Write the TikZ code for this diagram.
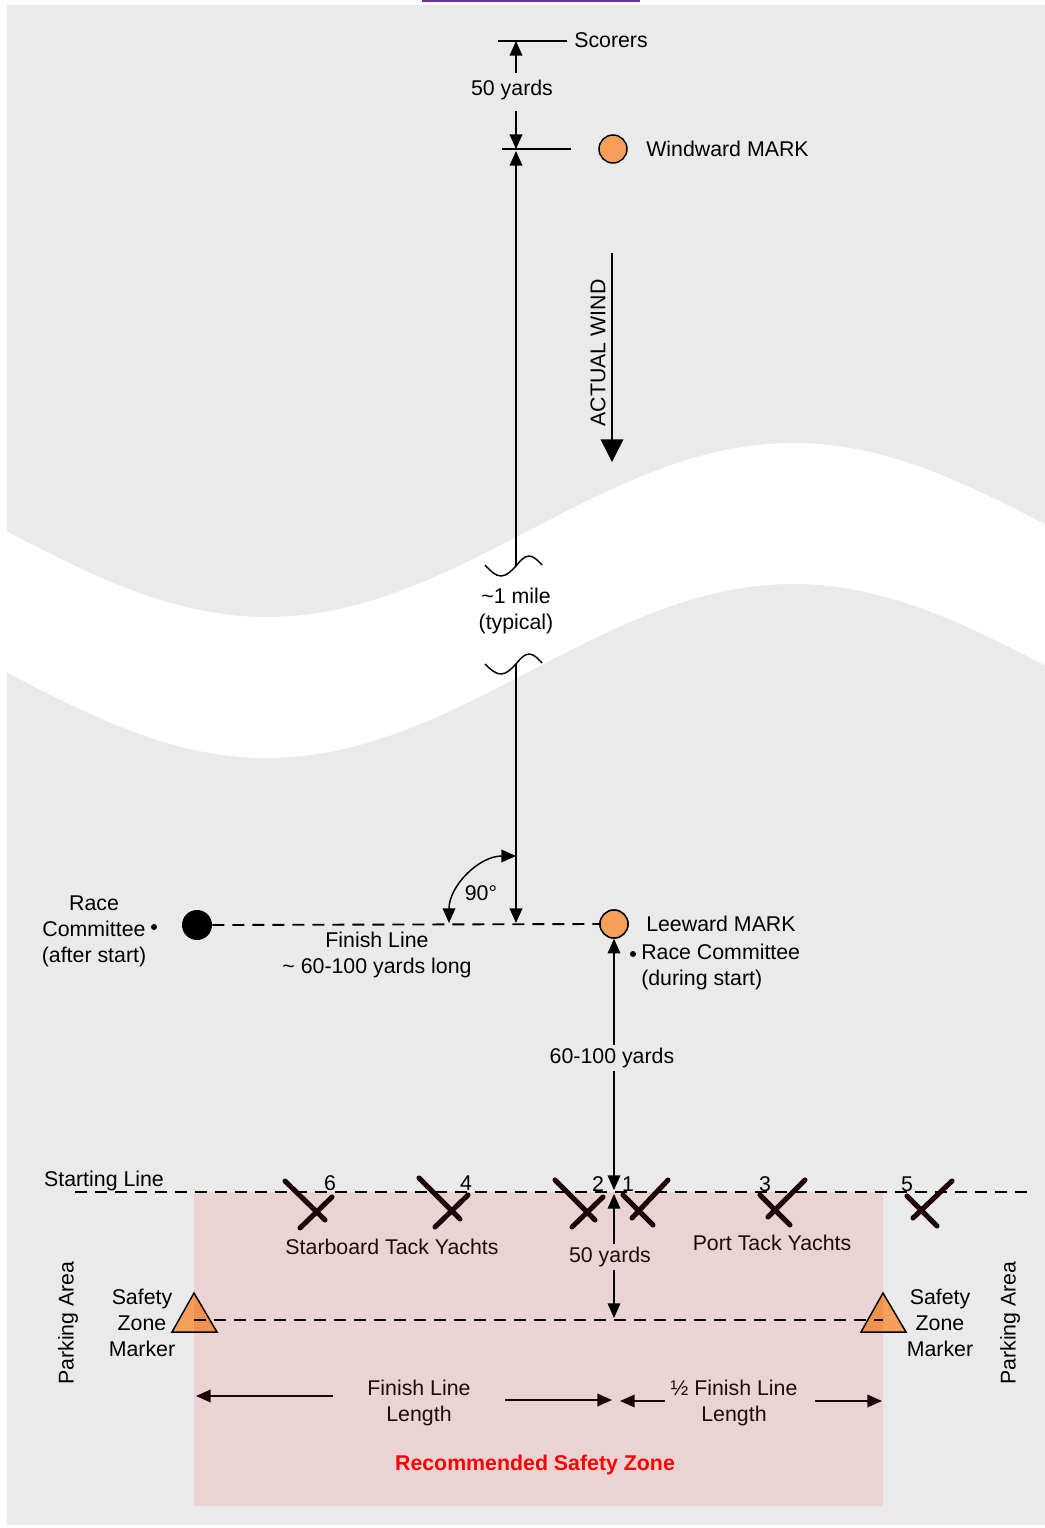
\documentclass[tikz,border=0pt]{standalone}
\usepackage{fontspec}
\setmainfont{Liberation Sans}
\usetikzlibrary{arrows.meta}
\definecolor{bggrey}{HTML}{EAEAEA}
\definecolor{zonepink}{HTML}{EBD3D3}
\definecolor{markorange}{HTML}{F5A05A}
\definecolor{markorangedark}{HTML}{F0914E}
\definecolor{boatcol}{HTML}{1E0505}
\definecolor{zonetext}{HTML}{1E0A0A}
\definecolor{linkpurple}{HTML}{7030A0}
\definecolor{zonered}{HTML}{FF0000}
\tikzset{
 lbl/.style={inner sep=0pt, font=\fontsize{16}{19.5}\selectfont},
 thinline/.style={line width=1.1pt},
 arr/.style={thinline, -{Triangle[length=11pt,width=9.5pt]}},
 dblarr/.style={thinline, {Triangle[length=11pt,width=9.5pt]}-{Triangle[length=11pt,width=9.5pt]}},
 dashline/.style={line width=1.4pt, dash pattern=on 9pt off 6pt},
 markcirc/.style={circle, draw, line width=1.1pt, fill=markorange, minimum size=21pt, inner sep=0pt},
 rccirc/.style={circle, fill=black, minimum size=22.5pt, inner sep=0pt},
 boatline/.style={line width=3.8pt, line cap=round, draw=boatcol},
 dotmark/.style={circle, fill=black, minimum size=4.5pt, inner sep=0pt},
 breakline/.style={line width=1.1pt},
}
\begin{document}
\begin{tikzpicture}[x=0.75pt,y=-0.75pt]
\useasboundingbox (0,0) rectangle (1045,1528);
% background
\fill[bggrey] (7,5) rectangle (1045,1525);
\draw[linkpurple, line width=1.5pt] (422,1) -- (640,1);
% white wave band
\begin{scope}
\clip (7,5) rectangle (1045,1525);
\fill[white] (4,530) sin (267,617) cos (530,530) sin (793,443) cos (1056,530)
  -- (1056,671) sin (793,584) cos (530,671) sin (267,758) cos (4,671) -- cycle;
\end{scope}
% safety zone
\fill[zonepink] (194,1192) rectangle (883,1506);

% ---- top: scorers and windward mark
\coordinate (scL) at (498,41); \coordinate (scR) at (567,41);
\draw[thinline] (scL) -- (scR);
\node[lbl, anchor=west] (scorers) at (574,40) {Scorers};
\coordinate (scTop) at (516,41); \coordinate (scA) at (516,73);
\draw[arr] (scA) -- (scTop);
\node[lbl] (fiftyTop) at (512,90) {50 yards};
\coordinate (wwB) at (516,111); \coordinate (wwC) at (516,149);
\draw[arr] (wwB) -- (wwC);
\coordinate (wwL) at (502,149); \coordinate (wwR) at (571,149);
\draw[thinline] (wwL) -- (wwR);
\node[markcirc] (ww) at (613,149) {};
\node[lbl, anchor=west] (wwtext) at (646,149) {Windward MARK};

% long course line (upper part)
\coordinate (brk1) at (516,566); \coordinate (wwU) at (516,151);
\draw[arr] (brk1) -- (wwU);
\draw[breakline] (485,565) sin (501,576) cos (516,566) sin (529,556) cos (542,565);

% wind arrow
\coordinate (windA) at (612,253); \coordinate (windB) at (612,462);
\draw[line width=1.1pt, -{Triangle[length=17pt,width=17pt]}] (windA) -- (windB);
\node[lbl, rotate=90] (windtext) at (598,353) {ACTUAL WIND};

% mile label
\node[lbl, align=center] (mile) at (516,611) {\textasciitilde1 mile\\(typical)};

% long course line (lower part)
\draw[breakline] (485,664) sin (501,674) cos (516,664) sin (529,654) cos (542,663);
\coordinate (brk2) at (516,664); \coordinate (finC) at (516,923);
\draw[arr] (brk2) -- (finC);

% finish line
\node[rccirc] (rc) at (197,925) {};
\node[markcirc] (lm) at (614,924) {};
\draw[dashline] (rc.east) -- (lm.west);
\node[markcirc] at (lm) {};
\draw[dblarr] (449,923) arc[start angle=180, end angle=270, radius=67];
\node[lbl] (ninety) at (481,893) {90°};

\node[lbl, align=center] (rctext) at (94,931) {Race\\Committee\\(after start)};
\node[dotmark] (rcdot) at (154,927) {};
\node[lbl, align=center] (fintext) at (377,955) {Finish Line\\\textasciitilde{} 60-100 yards long};

\node[lbl, anchor=west] (lmtext) at (646,924) {Leeward MARK};
\node[dotmark] (lmdot) at (633,954) {};
\node[lbl, anchor=north west, align=left] (rcdur) at (641,944) {Race Committee\\(during start)};

% leeward to starting line
\coordinate (slC) at (614,1190);
\draw[dblarr] (lm.south) -- (slC);
\node[lbl, fill=bggrey, inner sep=2pt] (sixty) at (612,1058) {60-100 yards};

% starting line
\coordinate (slL) at (75,1192); \coordinate (slR) at (1032,1192);
\draw[dashline] (slL) -- (slR);
\node[lbl] (sltext) at (104,1181) {Starting Line};

% 50 yards to safety line
\coordinate (slC2) at (614,1194); \coordinate (szC) at (614,1318);
\draw[dblarr] (slC2) -- (szC);
\node[lbl, fill=zonepink, inner sep=2pt, text=zonetext] (fiftyLow) at (610,1257) {50 yards};

% boats
\draw[boatline] (285,1181) -- (325,1220); \draw[boatline] (300,1228) -- (332,1197);
\draw[boatline] (419,1178) -- (460,1219); \draw[boatline] (435,1227) -- (468,1195);
\draw[boatline] (555,1180) -- (595,1220); \draw[boatline] (572,1227) -- (603,1197);
\draw[boatline] (668,1180) -- (632,1218); \draw[boatline] (623,1195) -- (653,1225);
\draw[boatline] (805,1180) -- (768,1217); \draw[boatline] (760,1195) -- (790,1225);
\draw[boatline] (952,1181) -- (913,1218); \draw[boatline] (907,1196) -- (937,1226);
\node[lbl] (n6) at (330,1183) {6};
\node[lbl] (n4) at (466,1183) {4};
\node[lbl] (n2) at (598,1184) {2};
\node[lbl] (n1) at (628,1184) {1};
\node[lbl] (n3) at (765,1184) {3};
\node[lbl] (n5) at (907,1184) {5};
\node[lbl, text=zonetext] (stbd) at (392,1247) {Starboard Tack Yachts};
\node[lbl, text=zonetext] (port) at (772,1243) {Port Tack Yachts};

% safety zone markers
\coordinate (szL) at (194,1320); \coordinate (szR) at (883,1320);
\fill[markorange] (194,1293) -- (217,1332) -- (172,1332) -- cycle;
\fill[markorange] (883,1293) -- (906,1332) -- (861,1332) -- cycle;
\begin{scope}
\clip (194,1192) rectangle (883,1506);
\fill[markorangedark] (194,1293) -- (217,1332) -- (172,1332) -- cycle;
\fill[markorangedark] (883,1293) -- (906,1332) -- (861,1332) -- cycle;
\end{scope}
\draw[line width=1.1pt, line join=miter] (194,1293) -- (217,1332) -- (172,1332) -- cycle;
\draw[line width=1.1pt, line join=miter] (883,1293) -- (906,1332) -- (861,1332) -- cycle;
\draw[dashline] (szL) -- (szR);
\node[lbl, align=center] (szmL) at (142,1323) {Safety\\Zone\\Marker};
\node[lbl, align=center] (szmR) at (940,1323) {Safety\\Zone\\Marker};
\node[lbl, rotate=90] (parkL) at (68,1323) {Parking Area};
\node[lbl, rotate=90] (parkR) at (1010,1323) {Parking Area};

% finish line length arrows
\node[lbl, align=center, text=zonetext] (fll) at (419,1403) {Finish Line\\Length};
\node[lbl, align=center, text=zonetext] (hfll) at (734,1403) {½ Finish Line\\Length};
\coordinate (a1s) at (333,1396); \coordinate (a1e) at (196,1396);
\coordinate (a2s) at (505,1400); \coordinate (a2e) at (612,1400);
\coordinate (a3s) at (665,1401); \coordinate (a3e) at (620,1401);
\coordinate (a4s) at (815,1401); \coordinate (a4e) at (882,1401);
\draw[arr, draw=boatcol] (a1s) -- (a1e);
\draw[arr, draw=boatcol] (a2s) -- (a2e);
\draw[arr, draw=boatcol] (a3s) -- (a3e);
\draw[arr, draw=boatcol] (a4s) -- (a4e);

\node[lbl, text=zonered, font=\fontsize{16}{19.5}\selectfont\bfseries] (rsz) at (535,1465) {Recommended Safety Zone};
\end{tikzpicture}
\end{document}
